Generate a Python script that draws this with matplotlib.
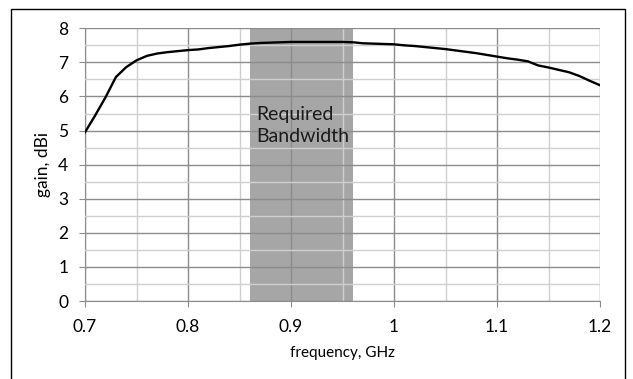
import matplotlib
matplotlib.use("Agg")
import matplotlib.pyplot as plt
from matplotlib.patches import Rectangle
from matplotlib.ticker import MultipleLocator

freq = [0.70, 0.71, 0.72, 0.73, 0.74, 0.75, 0.76, 0.77, 0.78, 0.79,
        0.80, 0.81, 0.82, 0.83, 0.84, 0.85, 0.86, 0.87, 0.88, 0.89,
        0.90, 0.91, 0.92, 0.93, 0.94, 0.95, 0.96, 0.97, 0.98, 0.99,
        1.00, 1.01, 1.02, 1.03, 1.04, 1.05, 1.06, 1.07, 1.08, 1.09,
        1.10, 1.11, 1.12, 1.13, 1.14, 1.15, 1.16, 1.17, 1.18, 1.19, 1.20]
gain = [4.95, 5.45, 5.98, 6.57, 6.86, 7.06, 7.19, 7.26, 7.30, 7.33,
        7.36, 7.38, 7.42, 7.45, 7.48, 7.52, 7.55, 7.57, 7.58, 7.59,
        7.60, 7.60, 7.60, 7.60, 7.60, 7.60, 7.59, 7.56, 7.55, 7.54,
        7.53, 7.50, 7.48, 7.45, 7.42, 7.39, 7.35, 7.31, 7.27, 7.22,
        7.17, 7.12, 7.08, 7.03, 6.91, 6.85, 6.78, 6.71, 6.60, 6.46, 6.33]
band = [0.86, 0.96]
band_label = "Required\nBandwidth"
xticks = [0.7, 0.8, 0.9, 1.0, 1.1, 1.2]
xtick_labels = ["0.7", "0.8", "0.9", "1", "1.1", "1.2"]
yticks = [0, 1, 2, 3, 4, 5, 6, 7, 8]

plt.rcParams['font.family'] = ['Lato', 'DejaVu Sans']

fig = plt.figure(figsize=(6.33, 3.79), dpi=100)
ax = fig.add_axes([85/633, 1-301/379, (600-85)/633, (301-28.3)/379])

# outer chart border
fig.patches.append(Rectangle((10.5/633, -0.05), (625-10.5)/633, 1.05 - 9.5/379,
                             transform=fig.transFigure, fill=False,
                             edgecolor='black', linewidth=1.0))

ax.axvspan(band[0], band[1], ymin=0, ymax=1, color='#a6a6a6', zorder=0.5, lw=0)

ax.set_xlim(0.7, 1.2)
ax.set_ylim(0, 8)
ax.set_xticks(xticks)
ax.set_xticklabels(xtick_labels)
ax.set_yticks(yticks)
ax.xaxis.set_minor_locator(MultipleLocator(0.05))
ax.yaxis.set_minor_locator(MultipleLocator(0.5))
ax.grid(which='major', color='#8c8c8c', lw=1.0, zorder=1)
ax.grid(which='minor', color='#cfcfcf', lw=1.0, zorder=1)
ax.set_axisbelow(False)
ax.plot(freq, gain, color='black', lw=1.7, zorder=3)

for s in ['top', 'right']:
    ax.spines[s].set_visible(False)
for s in ['left', 'bottom']:
    ax.spines[s].set_color('#8c8c8c')
ax.tick_params(which='major', length=4, color='#8c8c8c', labelsize=12.5,
               labelcolor='black')
ax.tick_params(axis='y', pad=8)
ax.tick_params(axis='x', pad=9)
ax.tick_params(which='minor', length=0)

ax.set_xlabel("frequency, GHz", fontsize=11, labelpad=8)
ax.set_ylabel("gain, dBi", fontsize=12.5, labelpad=5)

ax.text(0.866, 5.15, band_label, fontsize=14, color='#1a1a1a',
        ha='left', va='center', linespacing=1.35, zorder=4)

fig.savefig("out.png", dpi=100)
